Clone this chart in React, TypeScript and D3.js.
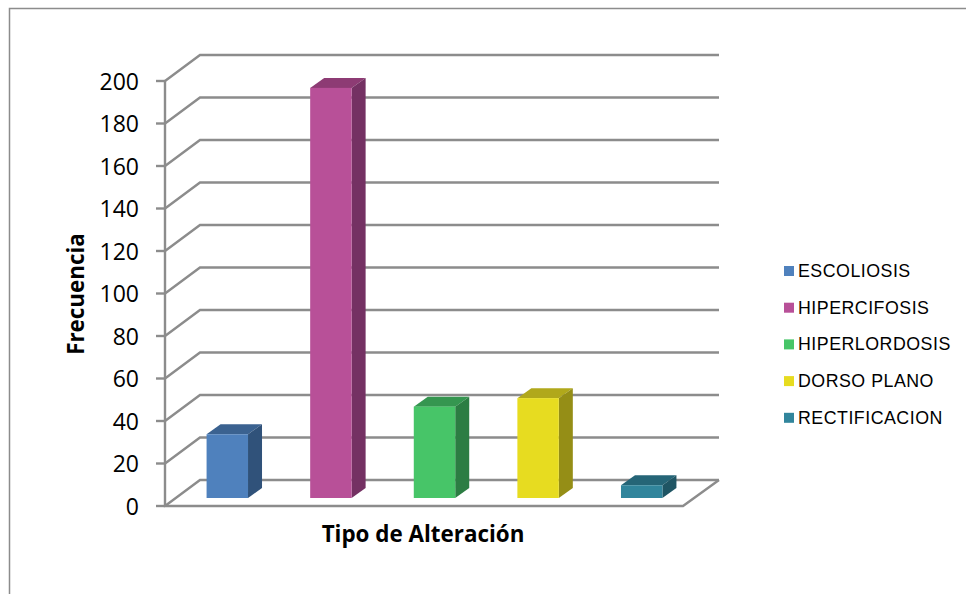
import React from "react";
import * as d3 from "d3";

const categories = ["ESCOLIOSIS", "HIPERCIFOSIS", "HIPERLORDOSIS", "DORSO PLANO", "RECTIFICACION"];
const values = [30, 193, 43, 47, 6];
const faceColors = ["#4f81bd", "#b85098", "#47c568", "#e7dc20", "#31859c"];
const topColors = ["#3b6290", "#8d3b74", "#359650", "#b1a81b", "#256577"];
const sideColors = ["#30527a", "#743163", "#2c7d43", "#958e16", "#1f5564"];
const yTicks = d3.range(0, 201, 20);
const xTitle = "Tipo de Alteración";
const yTitle = "Frecuencia";

const W = 966;
const H = 594;
const AXIS = "#8c8c8c";

// Oblique projection: the back wall is shifted right and up from the front plane.
const frontLeft = 165;
const frontRight = 683;
const depthX = 35;
const depthY = 26;
const y = d3.scaleLinear().domain([0, 200]).range([506, 81]);
const band = d3.scaleBand<number>().domain(d3.range(categories.length)).range([frontLeft + 10.5, frontRight + 10.5]).paddingInner(0.6).paddingOuter(0.3);

// Bars stand part way into the floor.
const baseDrop = -8;
const barDepthX = 14;
const barDepthY = 10;

const poly = (pts: [number, number][]) => pts.map((p) => p.join(",")).join(" ");

export default function App() {
  return (
    <svg width={W} height={H} style={{ position: "absolute", left: 0, top: 0, background: "#fff" }}>
      <path d={`M9.5,${H}V8.5H${W}`} fill="none" stroke="#8c8c8c" strokeWidth={1.5} />

      {/* floor outline and back-wall gridlines */}
      {yTicks.map((t) => (
        <polyline
          key={t}
          points={poly([
            [frontLeft, y(t)],
            [frontLeft + depthX, y(t) - depthY],
            [frontRight + depthX + 1, y(t) - depthY],
          ])}
          fill="none"
          stroke={AXIS}
          strokeWidth={2.4}
        />
      ))}
      <polyline
        points={poly([
          [frontRight + depthX + 1, y(0) - depthY],
          [frontRight, y(0)],
          [frontLeft, y(0)],
          [frontLeft, y(200)],
        ])}
        fill="none"
        stroke={AXIS}
        strokeWidth={2.4}
      />

      {/* value axis ticks and labels */}
      {yTicks.map((t) => (
        <g key={t}>
          <line x1={156} x2={frontLeft} y1={y(t)} y2={y(t)} stroke={AXIS} strokeWidth={2.4} />
          <text x={139} y={y(t) + 8.5} textAnchor="end" fontFamily="'Open Sans', sans-serif" fontSize={23} fill="#000">
            {t}
          </text>
        </g>
      ))}

      {/* bars */}
      {values.map((v, i) => {
        const x0 = band(i)!;
        const x1 = x0 + band.bandwidth();
        const base = y(0) + baseDrop;
        const top = base - (y(0) - y(v));
        return (
          <g key={categories[i]}>
            <polygon
              points={poly([
                [x0, top],
                [x0 + barDepthX, top - barDepthY],
                [x1 + barDepthX, top - barDepthY],
                [x1, top],
              ])}
              fill={topColors[i]}
            />
            <polygon
              points={poly([
                [x1, top],
                [x1 + barDepthX, top - barDepthY],
                [x1 + barDepthX, base - barDepthY],
                [x1, base],
              ])}
              fill={sideColors[i]}
            />
            <rect x={x0} y={top} width={x1 - x0} height={base - top} fill={faceColors[i]} />
          </g>
        );
      })}

      {/* axis titles */}
      <text x={423} y={542} textAnchor="middle" fontFamily="'Open Sans', sans-serif" fontWeight={700} fontSize={22.4} fill="#000">
        {xTitle}
      </text>
      <text
        transform="translate(84,294) rotate(-90)"
        textAnchor="middle"
        fontFamily="'Open Sans', sans-serif"
        fontWeight={700}
        fontSize={22.4}
        fill="#000"
      >
        {yTitle}
      </text>

      {/* legend */}
      {categories.map((c, i) => {
        const ly = 271 + i * 36.7;
        return (
          <g key={c}>
            <rect x={784} y={ly - 5} width={10} height={10} fill={faceColors[i]} />
            <text x={798} y={ly + 6} fontFamily="'Liberation Sans', sans-serif" fontSize={17.8} letterSpacing={0.5} fill="#000">
              {c}
            </text>
          </g>
        );
      })}
    </svg>
  );
}
